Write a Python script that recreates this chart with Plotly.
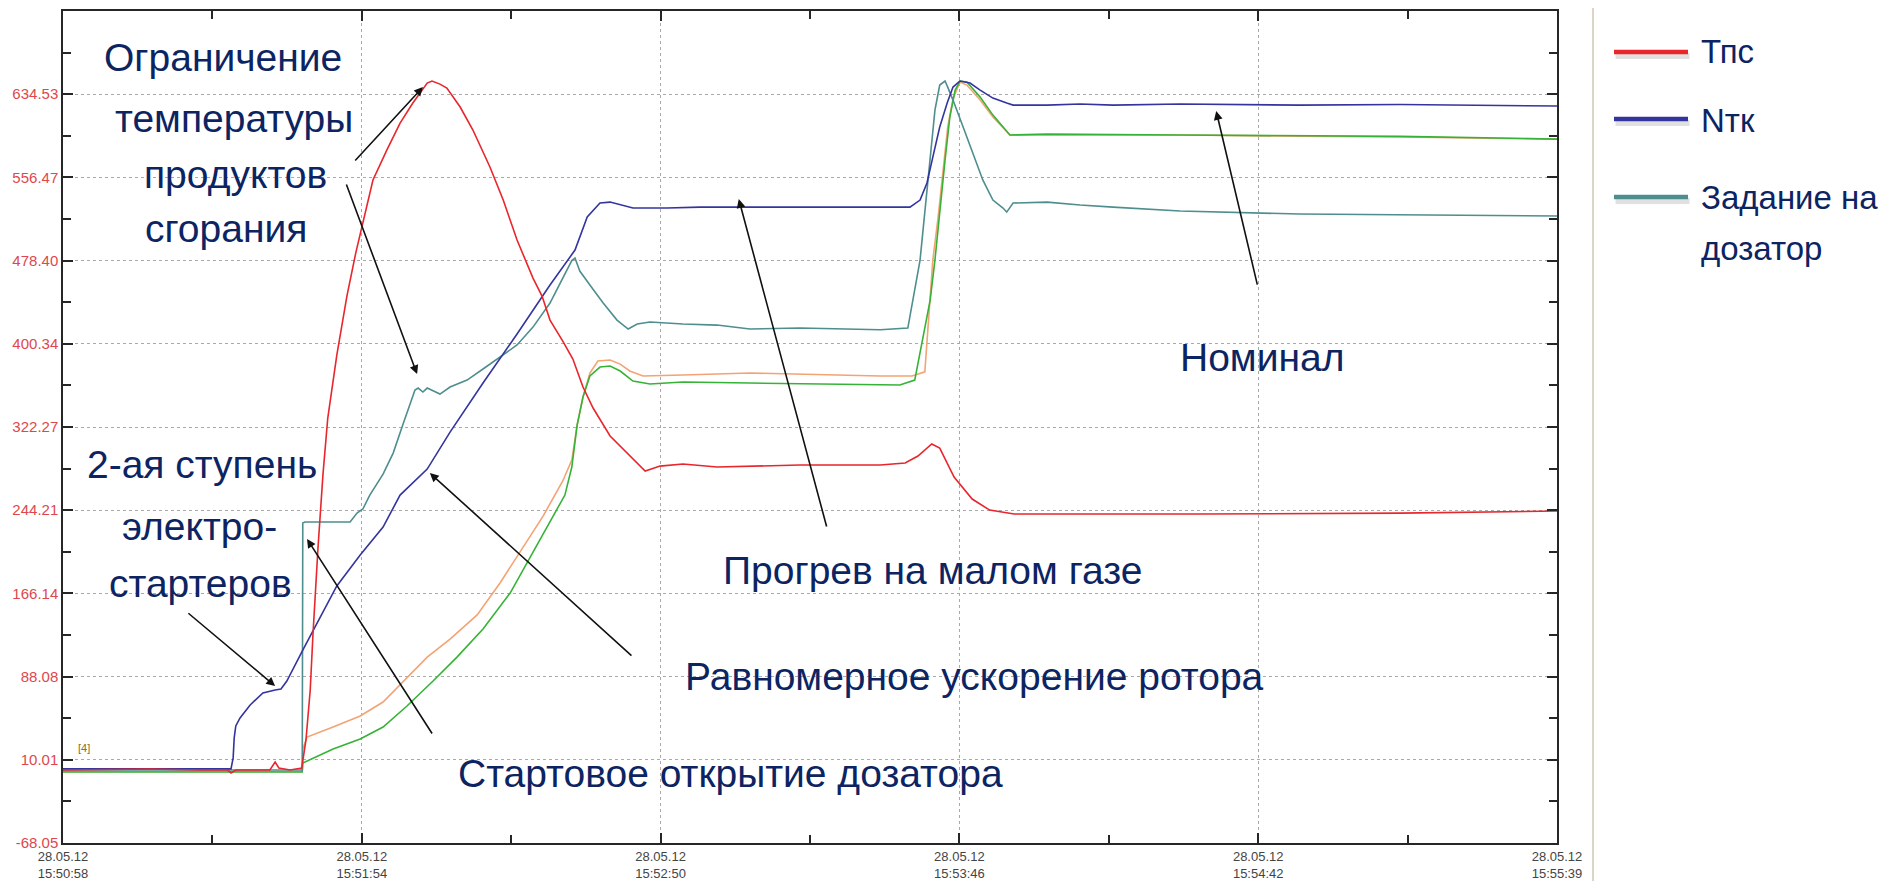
import plotly.graph_objects as go

# ---------------- data (time: seconds after 28.05.12 15:50:58) ----------------
time_labels = ["15:50:58", "15:51:54", "15:52:50", "15:53:46", "15:54:42", "15:55:39"]
date_label = "28.05.12"
T_END = 281.0

y_labels = [-68.05, 10.01, 88.08, 166.14, 244.21, 322.27, 400.34, 478.40, 556.47, 634.53]
Y_TOP = 712.59

# Тпс (red)
t_tps = [0, 16.4, 25.8, 31.0, 31.6, 32.5, 38.9, 39.9, 40.6, 42.7, 44.9, 45.7, 46.5, 47.0, 47.96,
         48.9, 49.8, 51.5, 53.4, 55.1, 58.3, 60.9, 63.4, 65.8, 68.5, 69.4, 70.9, 72.2, 74.7,
         77.1, 80.3, 82.8, 85.4, 88.4, 90.1, 91.6, 94.0, 95.9, 97.8, 99.7, 102.9, 106.1, 109.5,
         112.3, 116.6, 123.0, 129.2, 138.6, 153.7, 158.4, 160.8, 163.4, 164.9, 167.6, 171.0,
         174.3, 178.9, 213.8, 251.5, 281]
v_tps = [0.4, 1.4, 0.4, 0.4, -2.3, 0.4, 0.4, 7.9, 2.3, 0.4, 2.3, 28.6, 75.5, 126.2, 208.7,
         278.1, 330.7, 389.8, 445.1, 486.4, 554.0, 582.1, 607.4, 626.2, 645.0, 646.9, 644.0, 640.3, 622.5,
         600.9, 566.2, 535.2, 497.7, 462.0, 445.1, 422.6, 402.9, 386.0, 359.8, 340.1, 313.8, 297.8, 280.9,
         285.6, 287.5, 284.7, 285.6, 286.6, 286.6, 288.5, 295.0, 306.3, 302.5, 275.3, 254.7,
         244.3, 240.6, 240.6, 241.5, 243.4]

# Nтк (dark blue)
t_ntk = [0, 31.6, 32.0, 32.2, 32.5, 33.3, 35.2, 37.6, 39.9, 41.0, 42.1, 45.1, 51.5, 55.9, 60.2,
         63.4, 68.5, 72.8, 79.0, 85.4, 91.6, 96.3, 98.6, 101.0, 102.9, 107.2, 113.6, 119.8, 153.7,
         159.3, 161.2, 162.5, 163.6, 164.9, 166.3, 167.4, 168.7, 170.6, 172.5, 174.9, 177.5, 178.7,
         185.1, 191.3, 197.5, 210.1, 232.6, 251.5, 281]
v_ntk = [1.5, 1.5, 11.8, 30.6, 41.8, 49.3, 61.5, 72.8, 75.5, 76.4, 83.9, 113.0, 173.1, 202.2, 228.4,
         258.4, 282.8, 317.5, 363.5, 409.5, 455.5, 488.3, 519.3, 532.4, 533.3, 527.7, 527.7, 528.6, 528.6,
         528.6, 535.2, 551.2, 575.5, 603.7, 626.2, 641.2, 646.9, 645.0, 638.4, 630.9, 626.2, 624.3,
         624.3, 625.3, 624.3, 625.3, 624.3, 624.8, 623.4]

# Задание на дозатор (teal)
t_zd = [0, 44.6, 45.0, 45.1, 45.5, 54.0, 55.3, 56.4, 57.7, 60.2, 62.1, 63.9, 65.3, 66.2, 66.8,
        67.7, 68.5, 69.4, 70.9, 72.8, 76.0, 79.0, 82.8, 85.4, 88.4, 91.6, 94.0, 95.7, 96.3, 97.2,
        99.1, 101.6, 104.2, 106.3, 108.0, 110.4, 116.6, 123.0, 129.2, 138.6, 153.7, 158.9, 161.2,
        162.1, 163.1, 164.0, 164.9, 165.9, 166.4, 167.4, 169.3, 171.1, 173.0, 174.9, 176.8, 177.5,
        178.7, 185.1, 191.3, 197.5, 203.9, 210.1, 232.6, 251.5, 281]
v_zd = [0.4, 0.4, 0.4, 232.2, 233.1, 233.1, 241.5, 245.3, 258.4, 278.1, 297.8, 324.1, 343.8, 356.9, 358.8,
        355.1, 358.8, 356.9, 353.2, 359.8, 366.3, 376.7, 389.8, 399.2, 416.0, 438.6, 462.0, 478.4, 480.8, 468.6,
        455.5, 438.6, 422.6, 414.2, 418.9, 420.8, 418.9, 417.9, 414.2, 415.1, 413.5, 415.1, 478.9,
        525.8, 572.7, 619.6, 643.1, 646.9, 641.2, 629.0, 603.7, 579.3, 554.1, 535.2, 527.7, 523.9,
        532.4, 533.3, 530.5, 528.6, 526.8, 524.9, 522.1, 521.1, 520.2]

# orange trace
t_or = [0, 45.0, 45.1, 45.9, 50.8, 55.9, 60.2, 64.7, 68.5, 72.8, 77.9, 82.2, 86.5, 90.3, 94.0,
        95.7, 96.7, 97.8, 99.1, 100.6, 102.9, 104.8, 106.6, 109.1, 116.6, 129.2, 153.7, 159.7, 162.1,
        163.6, 164.6, 165.5, 166.4, 167.4, 168.7, 170.0, 172.5, 174.9, 177.5, 178.1, 185.1, 210.1,
        251.5, 281]
v_or = [-1.0, -1.0, 20.0, 31.4, 40.8, 51.1, 64.2, 86.7, 106.4, 123.3, 145.9, 175.9, 208.7, 238.7, 271.6,
        291.3, 324.1, 350.4, 372.9, 384.2, 385.1, 381.3, 374.8, 370.1, 371.0, 372.9, 370.1, 370.1, 374.0,
        478.9, 519.3, 563.4, 603.7, 630.3, 645.9, 643.1, 629.0, 613.1, 599.0, 596.2, 596.2, 596.2,
        594.3, 592.4]

# green trace
t_gr = [0, 45.0, 45.1, 50.8, 55.9, 60.2, 64.7, 69.6, 74.1, 79.0, 84.1, 87.8, 91.6, 94.4, 95.7,
        96.7, 97.8, 99.1, 101.0, 102.9, 104.8, 107.2, 110.4, 116.6, 129.2, 157.4, 160.2, 163.1,
        164.0, 164.9, 165.9, 166.8, 167.8, 168.7, 170.0, 172.5, 174.9, 178.1, 185.1, 210.1, 251.5, 281]
v_gr = [-1.4, -1.4, 7.0, 20.1, 29.5, 40.8, 60.5, 83.9, 106.4, 132.7, 166.5, 199.3, 232.2, 258.4, 284.7,
        324.1, 350.4, 370.1, 378.5, 379.5, 374.8, 365.4, 362.6, 364.5, 363.5, 361.7, 366.3, 441.4,
        478.9, 525.8, 572.7, 613.1, 638.4, 646.9, 645.9, 631.8, 614.9, 596.2, 597.1, 596.2, 595.0, 592.4]

legend_names = ["Тпс", "Nтк", "Задание на<br>дозатор"]

# ---------------- styling ----------------
C_RED = "#e8262b"
C_BLUE = "#34349e"
C_TEAL = "#4e8e8e"
C_ORANGE = "#f3a374"
C_GREEN = "#36b336"
C_TEXT = "#0c2462"
FONT = "Liberation Sans, Arial, sans-serif"

PAGE_OFF = 8                      # default body margin of the html page
W, H = 1893 - PAGE_OFF, 881 - PAGE_OFF
L, R, T, B = 63, 1557, 11, 843    # plot area in page pixels


def px(xf, yf):
    return (xf - L) / (R - L), (B - yf) / (B - T)


fig = go.Figure()
for tx, vy, col in [(t_or, v_or, C_ORANGE), (t_gr, v_gr, C_GREEN), (t_zd, v_zd, C_TEAL),
                    (t_ntk, v_ntk, C_BLUE), (t_tps, v_tps, C_RED)]:
    fig.add_trace(go.Scatter(x=tx, y=vy, mode="lines", line=dict(color=col, width=1.6),
                             showlegend=False, hoverinfo="skip"))

x_major = [i * T_END / 5 for i in range(6)]
x_minor = [(i + 0.5) * T_END / 5 for i in range(5)]
x_text = [f"{date_label}<br>{s}" for s in time_labels]
step = (y_labels[-1] - y_labels[0]) / 9
y_minor = [y_labels[0] + (i + 0.5) * step for i in range(10)] + [Y_TOP]

axis_common = dict(showline=True, linecolor="#262626", linewidth=1.5, mirror="ticks",
                   ticks="inside", ticklen=10, tickwidth=1.5, tickcolor="#262626",
                   showgrid=True, gridcolor="#a9a9a9", gridwidth=1, griddash="dot",
                   zeroline=False, automargin=False)

fig.update_xaxes(range=[0, T_END], tickmode="array", tickvals=x_major, ticktext=x_text,
                 tickfont=dict(family=FONT, size=13, color="#444444"), ticklabelstandoff=1,
                 minor=dict(tickvals=x_minor, ticks="inside", ticklen=8, tickwidth=1.5,
                            tickcolor="#262626", showgrid=False),
                 **axis_common)
fig.update_yaxes(range=[y_labels[0], Y_TOP], tickmode="array", tickvals=y_labels,
                 ticktext=[f"{v:.2f}" for v in y_labels],
                 tickfont=dict(family=FONT, size=15, color="#e0474c"),
                 minor=dict(tickvals=y_minor, ticks="inside", ticklen=8, tickwidth=1.5,
                            tickcolor="#262626", showgrid=False),
                 **axis_common)

annotations = []
shapes = []

# text labels on the chart (positions in page pixels)
labels = [
    ("Ограничение", 223, 58), ("температуры", 234, 118), ("продуктов", 235, 174), ("сгорания", 226, 229),
    ("2-ая ступень", 202, 465), ("электро-", 199, 526), ("стартеров", 200, 583),
    ("Стартовое открытие дозатора", 730, 773),
    ("Равномерное ускорение ротора", 974, 676),
    ("Прогрев на малом газе", 932, 570),
    ("Номинал", 1262, 357),
]
for txt, xf, yf in labels:
    xp, yp = px(xf, yf)
    annotations.append(dict(text=txt, x=xp, y=yp, xref="paper", yref="paper", xanchor="center",
                            yanchor="middle", showarrow=False,
                            font=dict(family=FONT, size=39, color=C_TEXT)))

# arrows: (tail_t, tail_v, head_t, head_v) in data units
arrows = [
    (54.7, 570.9, 67.7, 641.2),
    (53.2, 551.2, 66.6, 371.9),
    (23.3, 148.7, 39.9, 79.2),
    (69.6, 33.3, 45.9, 217.2),
    (107.2, 106.5, 69.0, 279.1),
    (143.7, 227.5, 127.1, 536.1),
    (224.7, 454.5, 216.9, 618.7),
]
for ta, va, th, vh in arrows:
    annotations.append(dict(text="", x=th, y=vh, xref="x", yref="y", ax=ta, ay=va,
                            axref="x", ayref="y", showarrow=True, arrowhead=2, arrowsize=1.1,
                            arrowwidth=1.6, arrowcolor="#111111"))

# small marker
xp, yp = px(76, 756)
annotations.append(dict(text="[4]", x=xp, y=yp, xref="paper", yref="paper", showarrow=False,
                        font=dict(family=FONT, size=11, color="#8b6b2e")))

# right panel divider
xd, _ = px(1593, 0)
shapes.append(dict(type="line", xref="paper", yref="paper", x0=xd, x1=xd, y0=-0.06, y1=1.03,
                   line=dict(color="#dcd5c6", width=2)))

# legend (custom)
leg_colors = [C_RED, C_BLUE, C_TEAL]
leg_y = [52, 119, 197]
leg_text_y = [51, 120, 197]
x0, _ = px(1614, 0)
x1, _ = px(1688, 0)
xt, _ = px(1699, 0)
for col, yf, ytf, name in zip(leg_colors, leg_y, leg_text_y, legend_names):
    _, ys = px(0, yf + 4)
    shapes.append(dict(type="line", xref="paper", yref="paper", x0=x0 + 0.001, x1=x1 + 0.001,
                       y0=ys, y1=ys, line=dict(color="rgba(0,0,0,0.12)", width=6)))
    _, yl = px(0, yf)
    shapes.append(dict(type="line", xref="paper", yref="paper", x0=x0, x1=x1, y0=yl, y1=yl,
                       line=dict(color=col, width=4.5)))
    lines = name.split("<br>")
    for k, ln in enumerate(lines):
        _, ytxt = px(0, ytf + k * 51)
        annotations.append(dict(text=ln, x=xt, y=ytxt, xref="paper", yref="paper",
                                xanchor="left", yanchor="middle", showarrow=False,
                                font=dict(family=FONT, size=33, color=C_TEXT)))

fig.update_layout(width=W, height=H,
                  margin=dict(l=L - PAGE_OFF, r=W - (R - PAGE_OFF), t=T - PAGE_OFF,
                              b=H - (B - PAGE_OFF), pad=0),
                  paper_bgcolor="white", plot_bgcolor="white",
                  annotations=annotations, shapes=shapes, showlegend=False)

fig.write_html("out.html")
